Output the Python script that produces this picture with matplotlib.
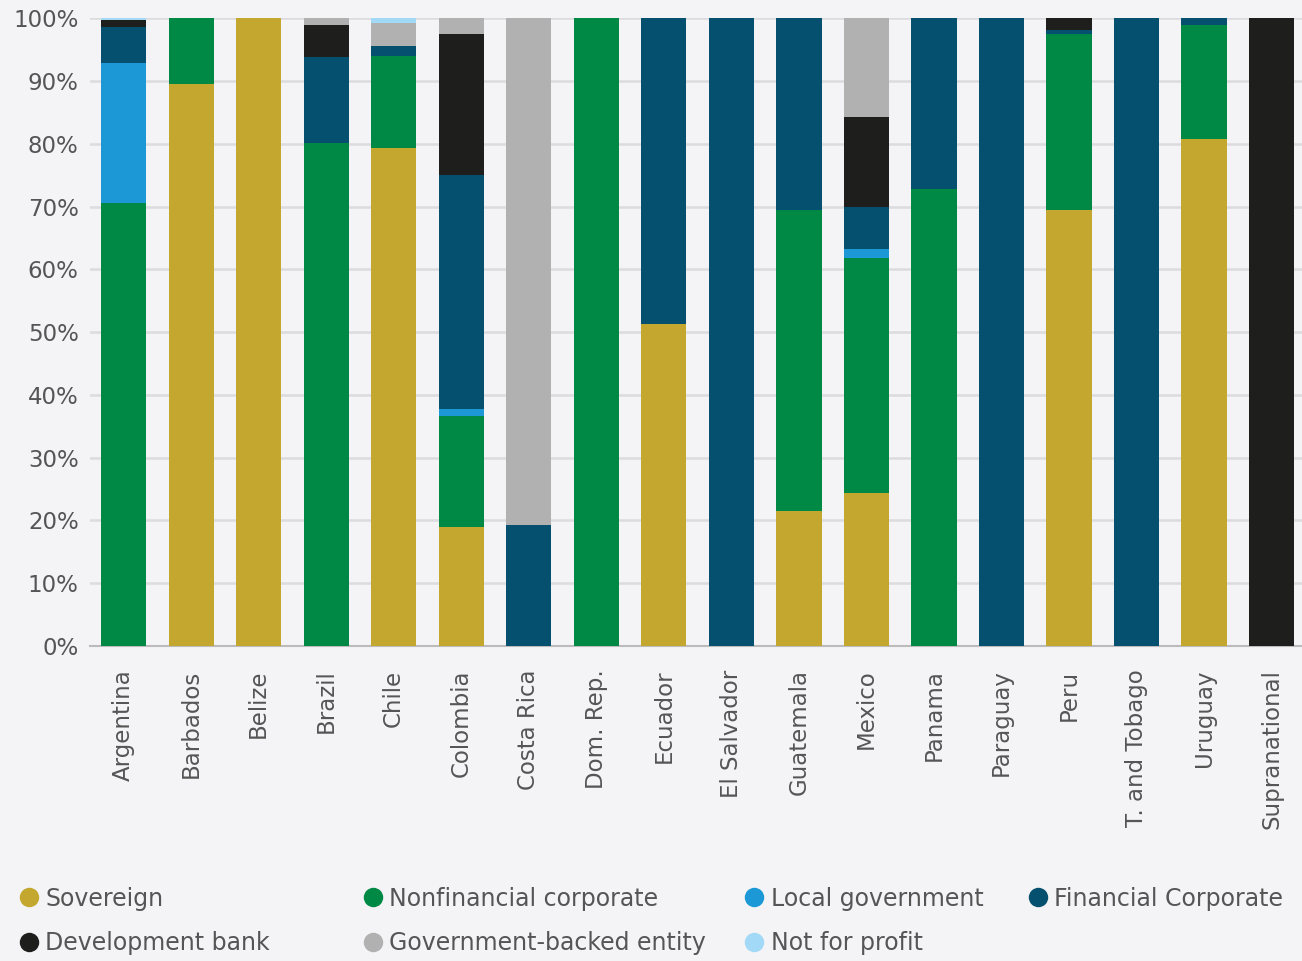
import matplotlib.pyplot as plt
import numpy as np
from matplotlib.lines import Line2D

countries = [
    "Argentina", "Barbados", "Belize", "Brazil", "Chile", "Colombia",
    "Costa Rica", "Dom. Rep.", "Ecuador", "El Salvador", "Guatemala",
    "Mexico", "Panama", "Paraguay", "Peru", "T. and Tobago", "Uruguay",
    "Supranational",
]

# shares in %
sovereign = [0, 89.5, 100, 0, 79.3, 19.0, 0, 0, 51.3, 0, 21.5, 24.4, 0, 0, 69.4, 0, 80.7, 0]
nonfinancial = [70.5, 10.5, 0, 80.1, 14.7, 17.6, 0, 100, 0, 0, 47.9, 37.4, 72.8, 0, 28.1, 0, 18.3, 0]
local_gov = [22.3, 0, 0, 0, 0, 1.2, 0, 0, 0, 0, 0, 1.5, 0, 0, 0, 0, 0, 0]
financial = [5.8, 0, 0, 13.7, 1.6, 37.2, 19.3, 0, 48.7, 100, 30.6, 6.6, 27.2, 100, 0.7, 100, 1.0, 0]
dev_bank = [1.1, 0, 0, 5.1, 0, 22.5, 0, 0, 0, 0, 0, 14.4, 0, 0, 1.8, 0, 0, 100]
gov_backed = [0, 0, 0, 1.1, 3.7, 2.5, 80.7, 0, 0, 0, 0, 15.7, 0, 0, 0, 0, 0, 0]
not_for_profit = [0.3, 0, 0, 0, 0.7, 0, 0, 0, 0, 0, 0, 0, 0, 0, 0, 0, 0, 0]

series = [
    ("Sovereign", sovereign, "#C4A72E"),
    ("Nonfinancial corporate", nonfinancial, "#008944"),
    ("Local government", local_gov, "#1C98D6"),
    ("Financial Corporate", financial, "#06506F"),
    ("Development bank", dev_bank, "#1E1E1C"),
    ("Government-backed entity", gov_backed, "#B1B1B1"),
    ("Not for profit", not_for_profit, "#A2D9F6"),
]

BG = "#F4F4F6"
TXT = "#555555"

plt.rcParams["font.family"] = ["DejaVu Sans"]

fig = plt.figure(figsize=(13.02, 9.61), dpi=100, facecolor=BG)
ax = fig.add_axes([0.069, 0.328, 0.931, 0.653], facecolor=BG)

x = np.arange(len(countries))
bottom = np.zeros(len(countries))
for name, vals, color in series:
    vals = np.array(vals, dtype=float)
    ax.bar(x, vals, width=0.67, bottom=bottom, color=color,
           edgecolor="none", zorder=3)
    bottom += vals

ax.set_ylim(0, 100)
ax.set_xlim(-0.5, 17.45)
ax.set_yticks(np.arange(0, 101, 10))
ax.set_yticklabels([f"{v}%" for v in range(0, 101, 10)])
ax.set_xticks(x)
ax.set_xticklabels(countries, rotation=90)
ax.tick_params(axis="both", length=0, labelsize=16.5, colors=TXT)
ax.tick_params(axis="x", pad=17)
ax.tick_params(axis="y", pad=8)
ax.grid(axis="y", color="#DCDCDF", linewidth=1.8, zorder=0)
for side in ["left", "right", "top"]:
    ax.spines[side].set_visible(False)
ax.spines["bottom"].set_color("#BBBBBB")
ax.spines["bottom"].set_linewidth(1.5)

# legend placed by hand, rows like the original
legend_cols = [0.004, 0.268, 0.561, 0.779]
legend_rows = [0.040, -0.006]
for i, (name, vals, color) in enumerate(series):
    r, c = divmod(i, 4)
    lx, ly = legend_cols[c], legend_rows[r]
    fig.legend(handles=[Line2D([], [], marker="o", linestyle="none",
                               markersize=14, markerfacecolor=color,
                               markeredgecolor="none")],
               labels=[name], loc="lower left", bbox_to_anchor=(lx, ly),
               frameon=False, fontsize=17, labelcolor=TXT,
               handletextpad=0.2, borderpad=0, handlelength=1.0)

fig.savefig("out.png", dpi=100, facecolor=BG)
